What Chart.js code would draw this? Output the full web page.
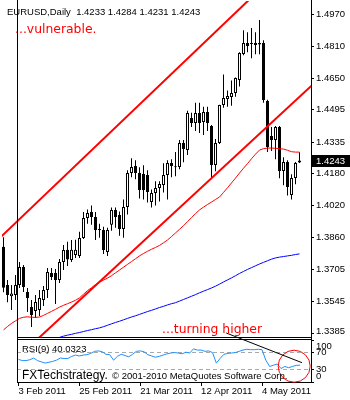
<!DOCTYPE html>
<html lang="en">
<head>
<meta charset="utf-8">
<title>EURUSD, Daily</title>
<script src="https://cdn.jsdelivr.net/npm/chart.js@4.4.1/dist/chart.umd.min.js"></script>
<style>
  html, body { margin: 0; padding: 0; background: #fff; }
  #stage { position: relative; width: 350px; height: 400px; overflow: hidden; }
  #stage canvas { position: absolute; left: 0; top: 0; }
</style>
</head>
<body>
<div id="stage">
  <canvas id="priceCanvas" width="350" height="400"></canvas>
  <canvas id="rsiCanvas" width="350" height="400"></canvas>
</div>
<script>
// ---------- series ----------
const symbol = 'EURUSD';
const timeframe = 'Daily';

const dates = [
  '2011-02-03','2011-02-04','2011-02-07','2011-02-08','2011-02-09','2011-02-10','2011-02-11',
  '2011-02-14','2011-02-15','2011-02-16','2011-02-17','2011-02-18','2011-02-21','2011-02-22',
  '2011-02-23','2011-02-24','2011-02-25','2011-02-28',
  '2011-03-01','2011-03-02','2011-03-03','2011-03-04','2011-03-07','2011-03-08','2011-03-09',
  '2011-03-10','2011-03-11','2011-03-14','2011-03-15','2011-03-16','2011-03-17','2011-03-18',
  '2011-03-21','2011-03-22','2011-03-23','2011-03-24','2011-03-25','2011-03-28','2011-03-29',
  '2011-03-30','2011-03-31',
  '2011-04-01','2011-04-04','2011-04-05','2011-04-06','2011-04-07','2011-04-08','2011-04-11',
  '2011-04-12','2011-04-13','2011-04-14','2011-04-15','2011-04-18','2011-04-19','2011-04-20',
  '2011-04-21','2011-04-22','2011-04-25','2011-04-26','2011-04-27','2011-04-28','2011-04-29',
  '2011-05-02','2011-05-03','2011-05-04','2011-05-05','2011-05-06','2011-05-09','2011-05-10',
  '2011-05-11','2011-05-12','2011-05-13','2011-05-16','2011-05-17','2011-05-18'
];

const opens = [
  1.3815,1.3626,1.3570,1.3576,1.3626,1.3715,1.3591,1.3517,1.3497,1.3502,
  1.3551,1.3601,1.3685,1.3685,1.3650,1.3740,1.3800,1.3750,1.3775,1.3770,
  1.3859,1.3958,1.3988,1.3963,1.3904,1.3899,1.3790,1.3924,1.3998,1.3973,
  1.3904,1.4013,1.4181,1.4216,1.4181,1.4176,1.4171,1.4037,1.4082,1.4107,
  1.4122,1.4171,1.4231,1.4211,1.4211,1.4330,1.4295,1.4454,1.4429,1.4479,
  1.4434,1.4484,1.4414,1.4221,1.4330,1.4518,1.4548,1.4558,1.4578,1.4643,
  1.4772,1.4826,1.4826,1.4826,1.4826,1.4826,1.4538,1.4365,1.4345,1.4410,
  1.4191,1.4236,1.4072,1.4157,1.4233
];
const highs = [
  1.3862,1.3650,1.3626,1.3675,1.3740,1.3725,1.3611,1.3551,1.3576,1.3601,
  1.3621,1.3710,1.3710,1.3705,1.3755,1.3824,1.3840,1.3849,1.3850,1.3890,
  1.3988,1.4000,1.4020,1.3988,1.3930,1.3915,1.3910,1.4010,1.4010,1.3990,
  1.4050,1.4195,1.4255,1.4245,1.4210,1.4220,1.4195,1.4100,1.4140,1.4140,
  1.4230,1.4245,1.4250,1.4285,1.4345,1.4345,1.4490,1.4480,1.4530,1.4530,
  1.4510,1.4510,1.4420,1.4350,1.4520,1.4670,1.4590,1.4640,1.4655,1.4780,
  1.4890,1.4880,1.4900,1.4880,1.4940,1.4840,1.4545,1.4410,1.4415,1.4415,
  1.4260,1.4245,1.4175,1.4236,1.4284
];
const lows = [
  1.3590,1.3540,1.3502,1.3551,1.3611,1.3591,1.3492,1.3418,1.3462,1.3472,
  1.3522,1.3561,1.3650,1.3531,1.3636,1.3700,1.3720,1.3740,1.3760,1.3760,
  1.3854,1.3930,1.3925,1.3849,1.3860,1.3780,1.3770,1.3895,1.3910,1.3870,
  1.3860,1.3975,1.4160,1.4150,1.4055,1.4050,1.4035,1.4010,1.4020,1.4040,
  1.4085,1.4050,1.4160,1.4165,1.4200,1.4235,1.4270,1.4410,1.4390,1.4380,
  1.4370,1.4390,1.4160,1.4190,1.4325,1.4505,1.4510,1.4515,1.4560,1.4610,
  1.4765,1.4780,1.4750,1.4770,1.4770,1.4530,1.4285,1.4290,1.4250,1.4155,
  1.4120,1.4070,1.4050,1.4125,1.4231
];
const closes = [
  1.3612,1.3576,1.3584,1.3626,1.3715,1.3616,1.3561,1.3477,1.3541,1.3561,
  1.3601,1.3690,1.3665,1.3650,1.3740,1.3799,1.3752,1.3800,1.3800,1.3859,
  1.3958,1.3983,1.3963,1.3899,1.3899,1.3799,1.3899,1.3998,1.3963,1.3904,
  1.4013,1.4181,1.4211,1.4181,1.4097,1.4097,1.4087,1.4082,1.4107,1.4127,
  1.4171,1.4231,1.4216,1.4210,1.4330,1.4300,1.4479,1.4429,1.4479,1.4429,
  1.4484,1.4429,1.4221,1.4330,1.4518,1.4553,1.4563,1.4578,1.4652,1.4777,
  1.4826,1.4811,1.4821,1.4816,1.4819,1.4543,1.4310,1.4345,1.4410,1.4191,
  1.4236,1.4112,1.4157,1.4231,1.4243
];

// moving averages drawn on the price pane
const maFast = [
  1.3403,1.3420,1.3435,1.3448,1.3460,1.3466,1.3468,1.3466,1.3465,1.3467,
  1.3475,1.3485,1.3495,1.3505,1.3516,1.3525,1.3533,1.3541,1.3550,1.3562,
  1.3580,1.3598,1.3612,1.3628,1.3640,1.3650,1.3660,1.3672,1.3686,1.3700,
  1.3714,1.3728,1.3742,1.3756,1.3770,1.3782,1.3793,1.3803,1.3812,1.3822,
  1.3835,1.3849,1.3866,1.3884,1.3902,1.3920,1.3940,1.3960,1.3980,1.3998,
  1.4012,1.4025,1.4037,1.4050,1.4062,1.4085,1.4108,1.4132,1.4156,1.4181,
  1.4205,1.4228,1.4252,1.4275,1.4295,1.4302,1.4305,1.4305,1.4304,1.4302,
  1.4300,1.4294,1.4287,1.4285,1.4285
];
const maSlow = [
  null,null,null,null,null,null,null,null,null,null,null,null,null,null,
  1.3366,1.3372,1.3377,1.3381,1.3386,1.3390,1.3395,1.3400,1.3404,1.3409,
  1.3413,1.3419,1.3426,1.3433,1.3440,1.3446,1.3453,1.3460,1.3467,1.3473,
  1.3480,1.3487,1.3494,1.3500,1.3507,1.3514,1.3520,1.3527,1.3533,1.3538,
  1.3546,1.3554,1.3562,1.3570,1.3578,1.3587,1.3595,1.3603,1.3611,1.3620,
  1.3630,1.3641,1.3651,1.3661,1.3672,1.3683,1.3693,1.3703,1.3712,1.3721,
  1.3730,1.3738,1.3746,1.3754,1.3760,1.3764,1.3767,1.3770,1.3773,1.3777,1.3780
];

// oscillator pane
const rsiPeriod = 9;
const rsi9 = [
  54,51,51,53,57,51,48,45,47,49,
  52,57,56,56,61,64,62,64,65,68,
  73,74,72,66,65,52,61,66,63,60,
  66,73,74,72,65,62,59,61,64,67,
  69,70,69,67,71,69,79,76,76,73,
  74,70,45,56,66,68,69,70,73,76,
  78,77,77,78,77,52,37,40,43,32,
  37,34,37,39.6,40.0323
];

// ---------- axis labels ----------
const priceTicks = [1.4970, 1.4810, 1.4650, 1.4495, 1.4335, 1.4180, 1.4020, 1.3860, 1.3705, 1.3545, 1.3385];
const rsiTicks = [100, 70, 30, 0];
const rsiLevels = [70, 30];
const dateTicks = ['2011-02-03', '2011-02-25', '2011-03-21', '2011-04-12', '2011-05-04'];

// ---------- drawn objects: [bar index, value] ----------
const upperTrend = [[-0.5, 1.3867], [62, 1.5052]];
const lowerTrend = [[-0.5, 1.3192], [77, 1.4614]];
const rsiTrend = [[54.6, 116.7], [74.5, 46]];
const rsiMark = [[72.45, 37.6]];
const notes = [
  { text: '...vulnerable.', at: [2.875, 1.4874] },
  { text: '...turning higher', at: [39.625, 1.3386] }
];
const brand = 'FXTechstrategy.';
const copyright = '\u00A9 2001-2010 MetaQuotes Software Corp.';

// visible window
const barRange = [-0.375, 76.875];
const priceRange = [1.33678, 1.50345];

// ---------- helpers ----------
const MONTHS = ['Jan','Feb','Mar','Apr','May','Jun','Jul','Aug','Sep','Oct','Nov','Dec'];
const fmtDate = s => { const [y, m, d] = s.split('-'); return `${+d} ${MONTHS[m - 1]} ${y}`; };
const pts = pairs => pairs.map(([x, y]) => ({ x, y }));
const seriesPts = arr => arr.map((y, x) => ({ x, y })).filter(p => p.y !== null);
const last = closes.length - 1;
const SANS = '"Liberation Sans", Arial, sans-serif';
const AXIS_FONT = { family: SANS, size: 9.5 };
const noPad = s => { s.paddingTop = 0; s.paddingBottom = 0; s.paddingLeft = 0; s.paddingRight = 0; };

// keep the outermost axis labels inside their pane
function keepLabelsInside(scale, half) {
  scale.getLabelItems().forEach(item => {
    const t = item.options.translation;
    t[1] = Math.min(Math.max(t[1], scale.top + half), scale.bottom - half);
  });
}

// ---------- price pane ----------
const priceDecor = {
  id: 'priceDecor',
  beforeDraw(chart) { keepLabelsInside(chart.scales.y, 6); },
  afterDraw(chart) {
    const { ctx, chartArea: a, scales: { x, y } } = chart;
    ctx.save();
    ctx.textAlign = 'left';
    ctx.textBaseline = 'alphabetic';
    ctx.fillStyle = '#000';
    ctx.font = `9.5px ${SANS}`;
    const ohlc = [opens[last], highs[last], lows[last], closes[last]].map(v => v.toFixed(4)).join(' ');
    ctx.fillText(`${symbol},${timeframe}  ${ohlc}`, a.left + 5, a.top + 14);

    ctx.fillStyle = '#ff0000';
    ctx.font = '12.4px "DejaVu Sans", Verdana, sans-serif';
    notes.forEach(n => ctx.fillText(n.text, x.getPixelForValue(n.at[0]), y.getPixelForValue(n.at[1])));

    // last price marker on the axis
    const py = Math.round(y.getPixelForValue(closes[last]));
    ctx.fillStyle = '#000';
    ctx.fillRect(a.right + 1, py - 6, chart.width - a.right - 1, 12);
    ctx.fillStyle = '#fff';
    ctx.font = `9.5px ${SANS}`;
    ctx.textBaseline = 'middle';
    ctx.fillText(closes[last].toFixed(4), a.right + 5, py + 0.5);
    ctx.restore();
  }
};

const priceChart = new Chart(document.getElementById('priceCanvas'), {
  type: 'line',
  data: {
    datasets: [
      { data: pts(upperTrend), borderColor: '#ff0000', borderWidth: 2, order: 0, clip: 0 },
      { data: pts(lowerTrend), borderColor: '#ff0000', borderWidth: 2, order: 0, clip: 0 },
      { data: seriesPts(maFast), borderColor: '#ff0000', borderWidth: 1, order: 1, clip: 0 },
      { data: seriesPts(maSlow), borderColor: '#0000ff', borderWidth: 1, order: 1, clip: 0 },
      {
        type: 'bar',
        data: dates.map((d, i) => ({ x: i, y: [opens[i], closes[i]] })),
        barThickness: 3, grouped: false, inflateAmount: 0, minBarLength: 1,
        borderWidth: 1, borderSkipped: false, borderColor: '#000',
        backgroundColor: c => (c.dataIndex !== undefined && closes[c.dataIndex] >= opens[c.dataIndex]) ? '#ffffff' : '#000000',
        order: 2
      },
      {
        type: 'bar',
        data: dates.map((d, i) => ({ x: i, y: [lows[i], highs[i]] })),
        barThickness: 1, grouped: false, inflateAmount: 0, borderWidth: 0,
        backgroundColor: '#000', order: 3
      }
    ]
  },
  options: {
    responsive: false, animation: false, devicePixelRatio: 1, events: [],
    layout: { padding: { left: 2, top: 1, right: 0, bottom: 63 } },
    elements: { point: { radius: 0 }, line: { tension: 0, fill: false } },
    plugins: { legend: { display: false }, tooltip: { enabled: false } },
    scales: {
      x: { type: 'linear', display: false, min: barRange[0], max: barRange[1], offset: false, grid: { offset: false } },
      y: {
        type: 'linear', position: 'right', min: priceRange[0], max: priceRange[1],
        afterBuildTicks: s => { s.ticks = priceTicks.map(value => ({ value })); },
        afterFit: s => { s.width = 39; noPad(s); },
        ticks: { callback: v => v.toFixed(4), color: '#000', font: AXIS_FONT, padding: 2, autoSkip: false },
        grid: { drawOnChartArea: false, tickLength: 3, tickColor: '#000', color: '#000' },
        border: { color: '#000' }
      }
    }
  },
  plugins: [priceDecor]
});

// ---------- RSI pane ----------
const rsiDecor = {
  id: 'rsiDecor',
  beforeDraw(chart) { keepLabelsInside(chart.scales.y, 6); },
  afterDraw(chart) {
    const { ctx, chartArea: a } = chart;
    const pa = priceChart.chartArea;
    ctx.save();
    // pane frames
    ctx.strokeStyle = '#000';
    ctx.lineWidth = 1;
    ctx.beginPath();
    ctx.moveTo(a.left + 0.5, 0); ctx.lineTo(a.left + 0.5, a.bottom + 1);
    ctx.moveTo(a.right + 0.5, 0); ctx.lineTo(a.right + 0.5, a.bottom + 1);
    ctx.moveTo(a.left, pa.bottom + 0.5); ctx.lineTo(a.right + 1, pa.bottom + 0.5);
    ctx.moveTo(a.left, a.top - 0.5); ctx.lineTo(a.right + 1, a.top - 0.5);
    ctx.stroke();

    ctx.fillStyle = '#000';
    ctx.textAlign = 'left';
    ctx.textBaseline = 'alphabetic';
    ctx.font = `9.5px ${SANS}`;
    ctx.fillText(`RSI(${rsiPeriod}) ${rsi9[last].toFixed(4)}`, a.left + 5, a.top + 11.5);
    ctx.font = `12px ${SANS}`;
    ctx.fillText(brand, a.left + 5, a.bottom - 3);
    ctx.font = `9.5px ${SANS}`;
    ctx.fillText(copyright, a.left + 95, a.bottom - 3.5);
    ctx.restore();
  }
};

new Chart(document.getElementById('rsiCanvas'), {
  type: 'line',
  data: {
    datasets: [
      { data: pts(rsiTrend), borderColor: '#000', borderWidth: 1, order: 0, clip: false },
      {
        data: pts(rsiMark), showLine: false, order: 0, clip: false,
        pointRadius: 16, pointStyle: 'circle', pointBorderColor: '#ff0000',
        pointBackgroundColor: 'rgba(0,0,0,0)', pointBorderWidth: 1
      },
      { data: seriesPts(rsi9), borderColor: '#1e90ff', borderWidth: 1, order: 1 }
    ]
  },
  options: {
    responsive: false, animation: false, devicePixelRatio: 1, events: [],
    layout: { padding: { left: 2, top: 340, right: 0, bottom: 0 } },
    elements: { point: { radius: 0 }, line: { tension: 0, fill: false } },
    plugins: { legend: { display: false }, tooltip: { enabled: false } },
    scales: {
      x: {
        type: 'linear', min: barRange[0], max: barRange[1], offset: false,
        afterBuildTicks: s => { s.ticks = dateTicks.map(d => ({ value: dates.indexOf(d) })); },
        afterFit: s => { s.height = 18; noPad(s); },
        ticks: {
          callback: v => fmtDate(dates[v]), align: 'start', autoSkip: false,
          maxRotation: 0, minRotation: 0, padding: 0, color: '#000', font: AXIS_FONT
        },
        grid: { drawOnChartArea: false, tickLength: 4, tickColor: '#000', color: '#000', offset: false },
        border: { color: '#000' }
      },
      y: {
        type: 'linear', position: 'right', min: 0, max: 100,
        afterBuildTicks: s => { s.ticks = rsiTicks.map(value => ({ value })); },
        afterFit: s => { s.width = 39; noPad(s); },
        ticks: { callback: v => String(v), color: '#000', font: AXIS_FONT, padding: 2, autoSkip: false },
        grid: {
          drawOnChartArea: true,
          color: c => (c.tick && rsiLevels.includes(c.tick.value)) ? '#a9a9a9' : 'rgba(0,0,0,0)',
          tickColor: '#000', tickLength: 3
        },
        border: { color: '#000', dash: [4, 3] }
      }
    }
  },
  plugins: [rsiDecor]
});
</script>
</body>
</html>
